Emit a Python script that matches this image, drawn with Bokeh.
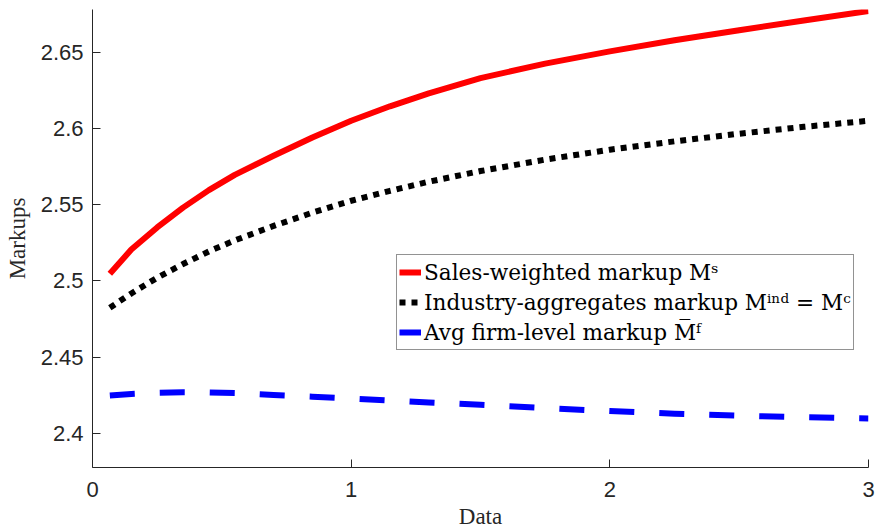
from bokeh.plotting import figure
from bokeh.models import Range1d, FixedTicker, NumeralTickFormatter, Legend, LegendItem
from bokeh.embed import file_html
from bokeh.resources import INLINE

# ---- data ----
x = [0.067, 0.15, 0.25, 0.35, 0.45, 0.55, 0.7, 0.85, 1.0, 1.15, 1.3, 1.5,
     1.75, 2.0, 2.25, 2.5, 2.75, 3.0]
sales_weighted = [2.5046, 2.5205, 2.5350, 2.5480, 2.5595, 2.5695, 2.5820, 2.5940, 2.6050,
                  2.6145, 2.6230, 2.6330, 2.6425, 2.6505, 2.6578, 2.6644, 2.6708, 2.6770]
industry_agg = [2.4823, 2.4917, 2.5020, 2.5110, 2.5193, 2.5265, 2.5360, 2.5447, 2.5525,
                2.5590, 2.5650, 2.5720, 2.5795, 2.5860, 2.5915, 2.5965, 2.6010, 2.6050]
avg_firm = [2.4248, 2.4258, 2.4265, 2.4268, 2.4267, 2.4263, 2.4251, 2.4240, 2.4228,
            2.4215, 2.4202, 2.4186, 2.4165, 2.4145, 2.4128, 2.4115, 2.4105, 2.4097]

x_ticks = [0, 1, 2, 3]
y_ticks = [2.4, 2.45, 2.5, 2.55, 2.6, 2.65]
labels = ["Sales-weighted markup M\u02e2",
          "Industry-aggregates markup M\u2071\u207f\u1d48 = M\u1d9c",
          "Avg firm-level markup M\u0305\u1da0"]

p = figure(width=878, height=531, output_backend="svg", toolbar_location=None,
           x_range=Range1d(0, 3), y_range=Range1d(2.3775, 2.678),
           min_border_left=92, min_border_right=10, min_border_top=9, min_border_bottom=64)
p.outline_line_color = None
p.xgrid.visible = False
p.ygrid.visible = False
p.background_fill_color = "white"
p.border_fill_color = "white"

r1 = p.line(x, sales_weighted, line_color="#ff0000", line_width=6, line_cap="butt",
            line_join="round")
r2 = p.line(x, industry_agg, line_color="black", line_width=6, line_dash="6 6",
            line_cap="butt", line_join="round")
r3 = p.line(x, avg_firm, line_color="#0000ff", line_width=6, line_dash="25 25",
            line_cap="butt", line_join="round")

for ax in (p.xaxis[0], p.yaxis[0]):
    ax.axis_line_color = "#262626"
    ax.major_tick_line_color = "#262626"
    ax.major_tick_in = 8
    ax.major_tick_out = 0
    ax.minor_tick_line_color = None
    ax.major_label_text_font = "Liberation Sans"
    ax.major_label_text_font_size = "22px"
    ax.major_label_text_color = "#262626"
    ax.axis_label_text_font = "Liberation Serif"
    ax.axis_label_text_font_size = "23px"
    ax.axis_label_text_font_style = "normal"
    ax.axis_label_text_color = "#262626"

p.xaxis.ticker = FixedTicker(ticks=x_ticks)
p.yaxis.ticker = FixedTicker(ticks=y_ticks)
p.yaxis.formatter = NumeralTickFormatter(format="0.0[0]")
p.xaxis.formatter = NumeralTickFormatter(format="0")
p.xaxis.major_label_standoff = 14
p.yaxis.major_label_standoff = 9
p.xaxis.axis_label = "Data"
p.yaxis.axis_label = "Markups"
p.xaxis.axis_label_standoff = 4
p.yaxis.axis_label_standoff = 8

legend = Legend(items=[LegendItem(label=labels[0], renderers=[r1]),
                       LegendItem(label=labels[1], renderers=[r2]),
                       LegendItem(label=labels[2], renderers=[r3])],
                location=(304, 117), padding=2, spacing=0, margin=0,
                label_height=30, glyph_height=30, glyph_width=22, label_standoff=3,
                label_text_font="DejaVu Serif", label_text_font_size="21.6px",
                label_text_color="black",
                border_line_color="#262626", border_line_width=1,
                background_fill_color="white", background_fill_alpha=1.0)
p.add_layout(legend, "center")

open("out.html", "w").write(file_html(p, INLINE))
